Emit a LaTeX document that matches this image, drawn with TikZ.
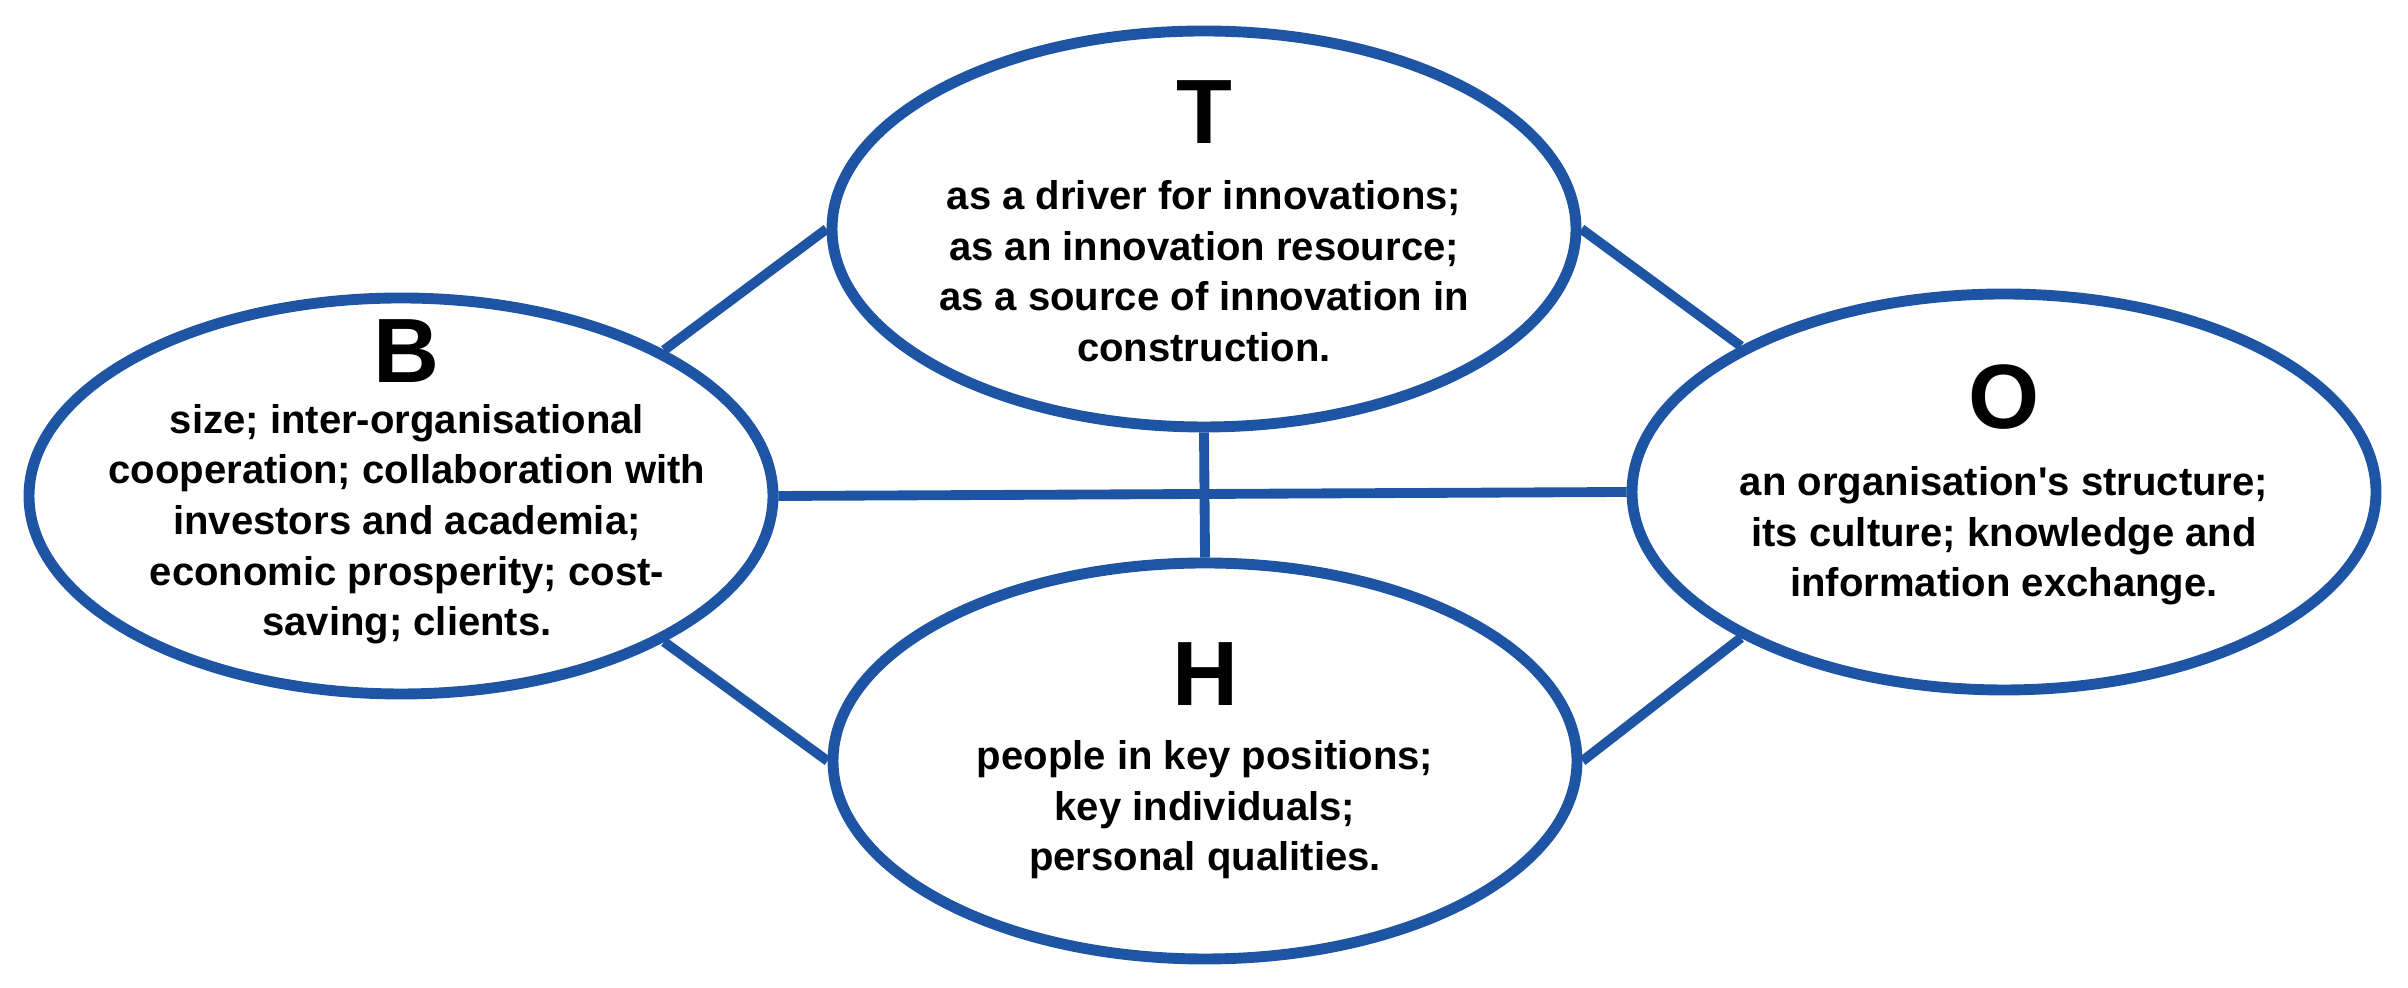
\documentclass[tikz,border=0pt]{standalone}
\usepackage{fontspec}
\setmainfont{Liberation Sans}
\usetikzlibrary{shapes.geometric}
\definecolor{ringblue}{RGB}{30,84,164}

\begin{document}
\begin{tikzpicture}[
    factor/.style={ellipse,draw=ringblue,line width=3.1pt,
        minimum width=7.44cm,minimum height=3.96cm,inner sep=0pt},
    factortext/.style={align=center,inner sep=0pt,
        font=\fontsize{11.4}{14.4}\selectfont\bfseries},
    link/.style={draw=ringblue,line width=2.8pt}]
	
	% Frame
	\useasboundingbox (0,0) rectangle (24.08,9.88);
	
	% Big letter on top of each text
	\newcommand{\bigletter}[1]{{\fontsize{26}{30}\selectfont #1}}
	
	% The four ellipses
	\node[factor] (T) at (12.04,7.59) {};
	\node[factor] (B) at (4.01,4.92) {};
	\node[factor] (O) at (20.04,4.96) {};
	\node[factor] (H) at (12.05,2.27) {};
	
	% Their texts
	\node[factortext,yshift=2.2pt] (Ttext) at (T) {\bigletter{T}\\[4.4pt]
		as a driver for innovations;\\
		as an innovation resource;\\
		as a source of innovation in\\
		construction.};
	\node[factortext,xshift=1.7pt,yshift=4pt] (Btext) at (B) {\bigletter{B}\\
		size; inter-organisational\\
		cooperation; collaboration with\\
		investors and academia;\\
		economic prosperity; cost-\\
		saving; clients.};
	\node[factortext,yshift=2pt] (Otext) at (O) {\bigletter{O}\\[4.6pt]
		an organisation\textquotesingle s structure;\\
		its culture; knowledge and\\
		information exchange.};
	\node[factortext] (Htext) at (H) {\bigletter{H}\\[3.8pt]
		people in key positions;\\
		key individuals;\\
		personal qualities.};
	
	% Links between them
	\draw[link] (B.29) -- (T.west);
	\draw[link] (T.east) -- (O.151);
	\draw[link] (B.-29) -- (H.west);
	\draw[link] (H.east) -- (O.-151);
	\draw[link] (B.east) -- (O.west);
	\draw[link] (T.south) -- (H.north);
\end{tikzpicture}
\end{document}
